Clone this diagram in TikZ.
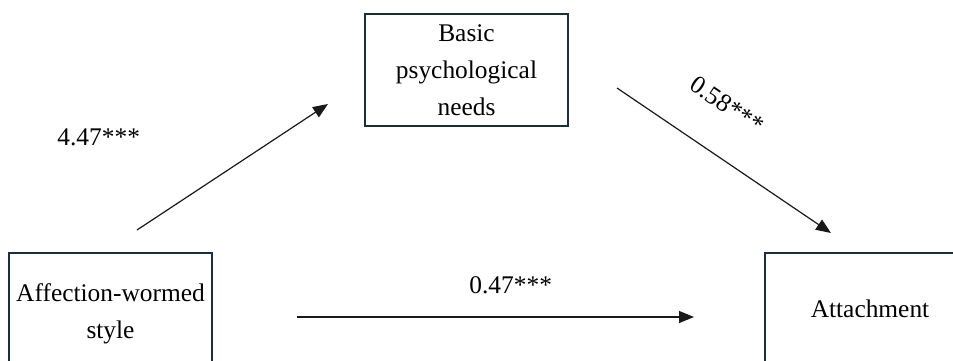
\documentclass[tikz,border=0pt]{standalone}
\usepackage{fontspec}
\setmainfont{Liberation Serif}
\usetikzlibrary{arrows.meta}
\definecolor{boxline}{RGB}{30,45,60}
\definecolor{arrowline}{RGB}{25,25,25}
\tikzset{
  varbox/.style={draw=boxline, line width=1pt, inner sep=0pt, align=center,
    font=\fontsize{12.7}{18.5}\selectfont},
  patharrow/.style={draw=arrowline, line width=0.6pt,
    -{Triangle[length=7.5pt,width=6pt]}},
  coef/.style={inner sep=0pt, font=\fontsize{12.7}{15}\selectfont}
}
\begin{document}
\begin{tikzpicture}[x=0.5pt,y=-0.5pt]
\useasboundingbox (0,0) rectangle (953,360);
\clip (0,0) rectangle (953,360);
\node[varbox, minimum width=101.5pt, minimum height=56pt] (bpn) at (466.5,70)
  {Basic\\psychological\\needs};
\node[varbox, minimum width=101.5pt, minimum height=61pt] (aws) at (110.5,314)
  {Affection-wormed\\style};
\node[varbox, minimum width=105pt, minimum height=56pt] (att) at (870,309)
  {Attachment};
\coordinate (a1s) at (137,230);
\coordinate (a1e) at (328,104);
\coordinate (a2s) at (617,88);
\coordinate (a2e) at (831,233);
\coordinate (a3s) at (297,317);
\coordinate (a3e) at (694,317);
\draw[patharrow] (a1s) -- (a1e);
\draw[patharrow] (a2s) -- (a2e);
\draw[patharrow] (a3s) -- (a3e);
\node[coef, anchor=base west] (l1) at (57,145) {4.47***};
\node[coef, anchor=base west] (l3) at (469,293) {0.47***};
\node[coef, rotate=-34] (l2) at (727,105) {0.58***};
\end{tikzpicture}
\end{document}
